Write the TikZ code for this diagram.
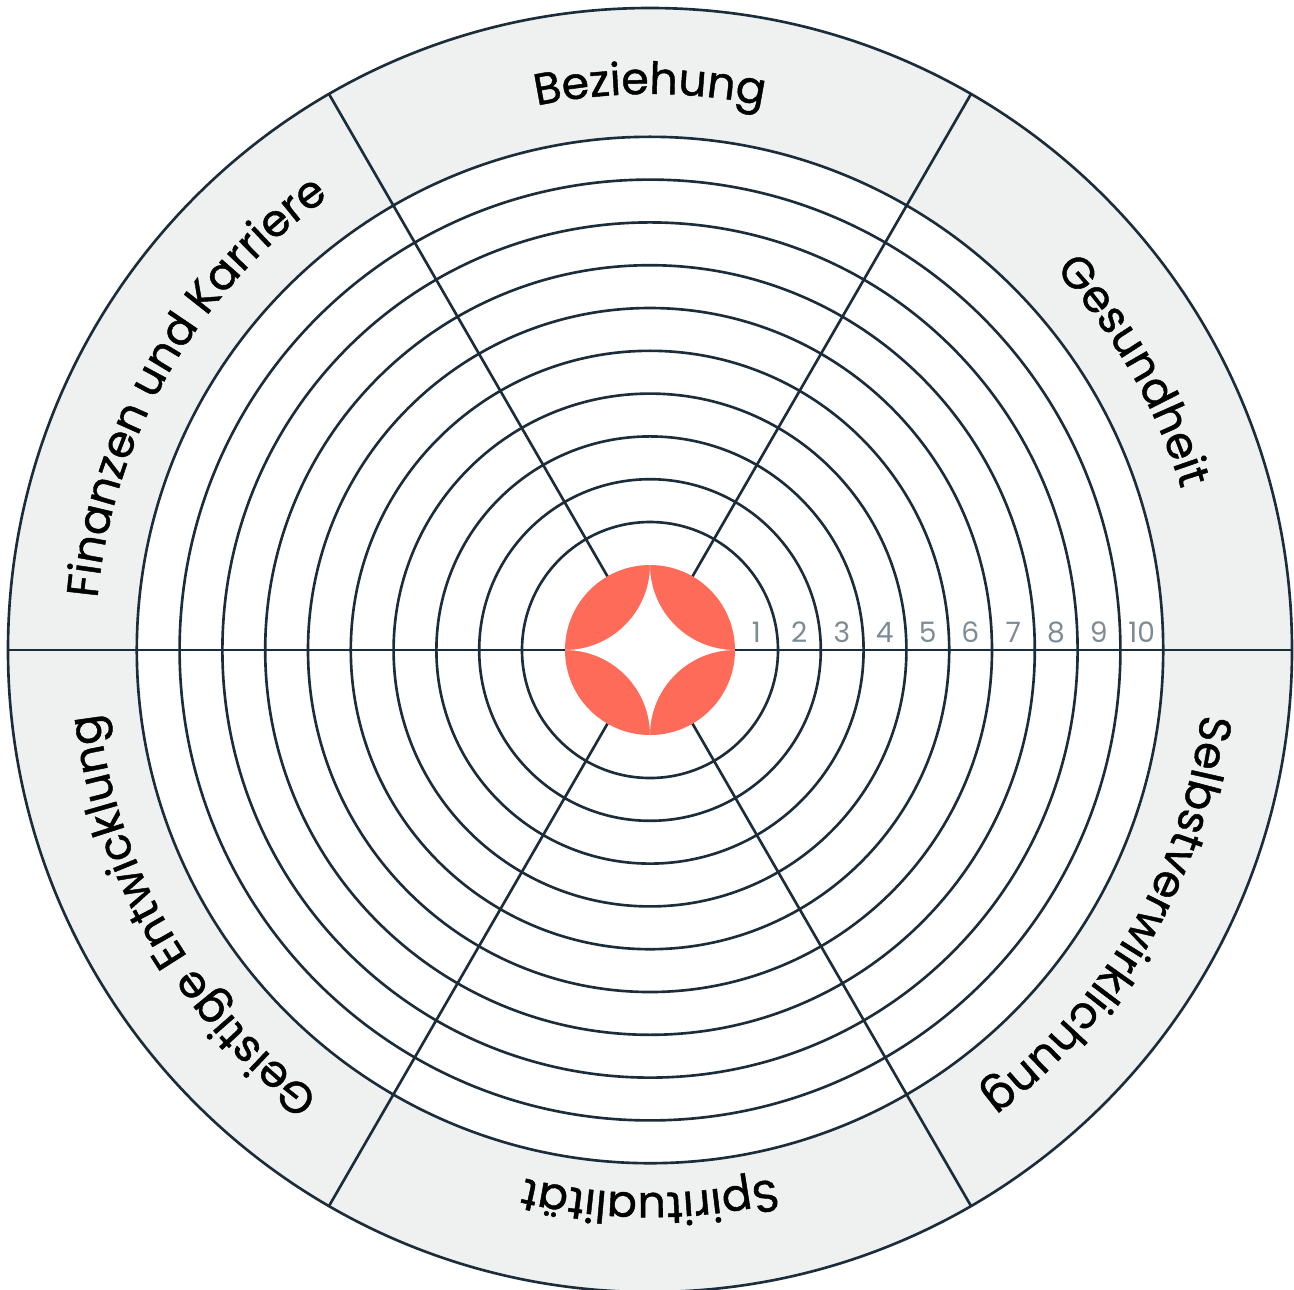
\documentclass[tikz,border=0pt]{standalone}
\usepackage{fontspec}
\usetikzlibrary{decorations.text}
\newfontfamily\wheelfont{Poppins}
\newfontfamily\labelface[FakeBold=1]{Poppins}
\newcommand{\sectorfont}{\labelface\fontsize{12.6}{15}\selectfont}
\newcommand{\scalefont}{\wheelfont\fontsize{8}{10}\selectfont}
\definecolor{wheelline}{HTML}{1B2D3B}
\definecolor{bandgray}{HTML}{EFF1F0}
\definecolor{coral}{HTML}{FF6B59}
\definecolor{scalegray}{HTML}{7D8B95}
\tikzset{
  ring/.style={draw=wheelline, line width=0.75pt},
  spoke/.style={draw=wheelline, line width=0.75pt},
  scalenum/.style={text=scalegray, font=\scalefont, anchor=base, inner sep=0pt}
}
% label bent along the band of one sector
\newcommand{\sectorlabel}[3]{%
  \path[decorate, decoration={text along path, text align=center,
    text={|\sectorfont|#3}}]
    (#1+30:#2) arc[start angle=#1+30, end angle=#1-30, radius=#2];}
\begin{document}
\begin{tikzpicture}
\useasboundingbox (-6.50,-6.39) rectangle (6.44,6.50);

% outer band
\fill[bandgray] (0,0) circle (6.42);
\fill[white] (0,0) circle (5.13);

% rings 1 to 10
\foreach \r in {1.28,1.708,...,5.2}
  \draw[ring] (0,0) circle (\r);
\draw[ring] (0,0) circle (6.42);

% spokes
\foreach \a in {0,60,...,300}
  \draw[spoke] (\a:0.85) -- (\a:6.42);

% centre badge
\fill[coral] (0,0) circle (0.85);
\fill[white] (0,0.85) arc[start angle=0, end angle=-90, radius=0.85]
  arc[start angle=90, end angle=0, radius=0.85]
  arc[start angle=180, end angle=90, radius=0.85]
  arc[start angle=270, end angle=180, radius=0.85] -- cycle;

% scale
\foreach \n in {1,...,10}
  \node[scalenum] (n\n) at ({0.85+0.428*(\n-0.5)},0.08) {\n};

% sectors
\sectorlabel{90}{5.56}{Beziehung}
\sectorlabel{30}{5.55}{Gesundheit}
\sectorlabel{-30}{5.55}{Selbstverwirklichung}
\sectorlabel{-90}{5.43}{Spiritualität}
\sectorlabel{-150}{5.55}{Geistige Entwicklung}
\sectorlabel{150}{5.55}{Finanzen und Karriere}
\end{tikzpicture}
\end{document}
